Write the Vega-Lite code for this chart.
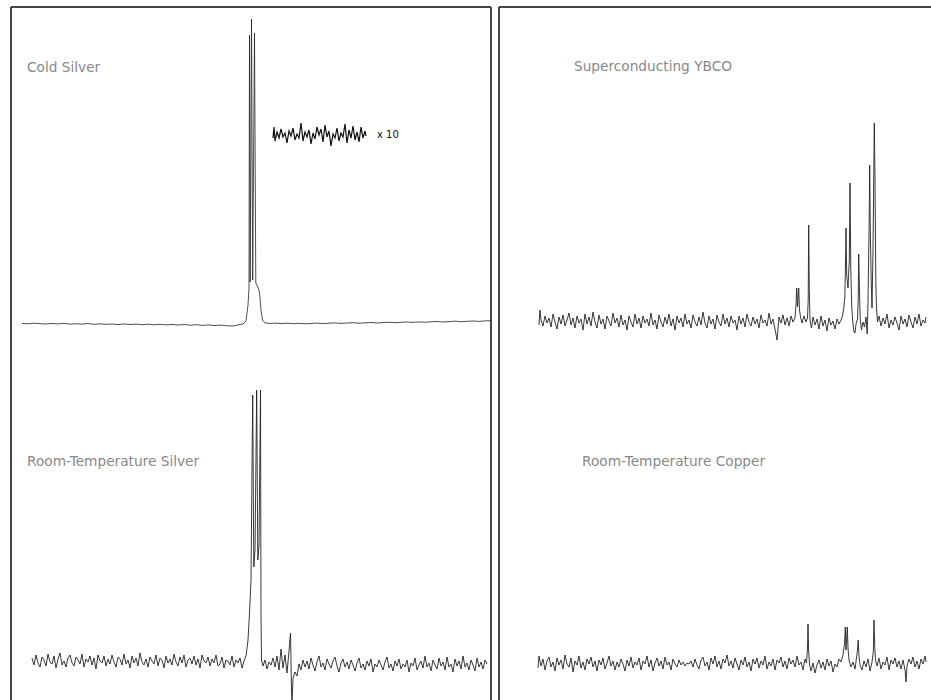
{
"$schema": "https://vega.github.io/schema/vega-lite/v6.json",
"padding": {"left": 10, "top": 6, "right": 0, "bottom": 0},
"spacing": 5,
"background": "white",
"config": {"view": {"stroke": null}},
"datasets": {
"cold": [{"x":11,"y":376.5},{"x":17,"y":376.2},{"x":23,"y":376.8},{"x":29,"y":376.4},{"x":35,"y":375.9},{"x":41,"y":376.6},{"x":47,"y":376.1},{"x":53,"y":376.7},{"x":59,"y":375.8},{"x":65,"y":376.3},{"x":71,"y":375.9},{"x":77,"y":376.5},{"x":83,"y":375.7},{"x":89,"y":376.2},{"x":95,"y":375.6},{"x":101,"y":376.0},{"x":107,"y":375.4},{"x":113,"y":376.1},{"x":119,"y":375.5},{"x":125,"y":375.9},{"x":131,"y":375.3},{"x":137,"y":375.8},{"x":143,"y":375.2},{"x":149,"y":375.7},{"x":155,"y":375.1},{"x":161,"y":375.6},{"x":167,"y":375.0},{"x":173,"y":375.5},{"x":179,"y":374.8},{"x":185,"y":375.3},{"x":191,"y":374.6},{"x":197,"y":375.1},{"x":203,"y":374.4},{"x":209,"y":374.9},{"x":215,"y":374.3},{"x":221,"y":374.0},{"x":225,"y":374.6},{"x":229,"y":375.5},{"x":232,"y":376},{"x":235,"y":379},{"x":237,"y":395},{"x":238,"y":412},{"x":238.5,"y":665},{"x":239.2,"y":418},{"x":240.5,"y":681},{"x":241.7,"y":420},{"x":243.5,"y":667},{"x":244.8,"y":417},{"x":246.5,"y":414},{"x":248.5,"y":408},{"x":250,"y":390},{"x":251.5,"y":380},{"x":254,"y":377},{"x":258,"y":376.6},{"x":264,"y":376.9},{"x":270,"y":376.4},{"x":276,"y":376.8},{"x":282,"y":376.3},{"x":288,"y":376.7},{"x":294,"y":376.2},{"x":300,"y":376.6},{"x":306,"y":376.9},{"x":312,"y":376.4},{"x":318,"y":376.8},{"x":324,"y":377.1},{"x":330,"y":376.6},{"x":336,"y":377.0},{"x":342,"y":377.3},{"x":348,"y":376.8},{"x":354,"y":377.2},{"x":360,"y":377.5},{"x":366,"y":377.0},{"x":372,"y":377.4},{"x":378,"y":377.8},{"x":384,"y":377.3},{"x":390,"y":377.7},{"x":396,"y":378.0},{"x":402,"y":377.6},{"x":408,"y":378.1},{"x":414,"y":377.7},{"x":420,"y":378.2},{"x":426,"y":378.5},{"x":432,"y":378.0},{"x":438,"y":378.4},{"x":444,"y":378.8},{"x":450,"y":378.3},{"x":456,"y":378.7},{"x":462,"y":379.0},{"x":468,"y":378.6},{"x":474,"y":379.1},{"x":480,"y":379.3}],
"x10": [{"x":262,"y":562},{"x":263,"y":573},{"x":264,"y":559},{"x":266,"y":568},{"x":268,"y":562},{"x":270,"y":571},{"x":272,"y":563},{"x":274,"y":567},{"x":276,"y":557},{"x":278,"y":569},{"x":280,"y":564},{"x":282,"y":572},{"x":284,"y":560},{"x":286,"y":566},{"x":288,"y":562},{"x":290,"y":577},{"x":292,"y":559},{"x":294,"y":568},{"x":296,"y":563},{"x":298,"y":570},{"x":300,"y":556},{"x":302,"y":567},{"x":304,"y":561},{"x":306,"y":573},{"x":308,"y":565},{"x":310,"y":571},{"x":312,"y":558},{"x":314,"y":575},{"x":316,"y":563},{"x":318,"y":569},{"x":320,"y":554},{"x":322,"y":566},{"x":324,"y":562},{"x":326,"y":572},{"x":328,"y":559},{"x":330,"y":567},{"x":332,"y":563},{"x":334,"y":576},{"x":336,"y":557},{"x":338,"y":570},{"x":340,"y":562},{"x":342,"y":574},{"x":344,"y":560},{"x":346,"y":568},{"x":348,"y":558},{"x":350,"y":573},{"x":352,"y":562},{"x":354,"y":569},{"x":355,"y":564}],
"rts": [{"x":21,"y":42},{"x":23,"y":35},{"x":25,"y":45},{"x":27,"y":37},{"x":29,"y":33},{"x":31,"y":43},{"x":33,"y":40},{"x":35,"y":34},{"x":37,"y":46},{"x":39,"y":38},{"x":41,"y":36},{"x":43,"y":44},{"x":45,"y":32},{"x":47,"y":41},{"x":49,"y":47},{"x":51,"y":35},{"x":53,"y":39},{"x":55,"y":33},{"x":57,"y":42},{"x":59,"y":45},{"x":61,"y":37},{"x":63,"y":34},{"x":65,"y":43},{"x":67,"y":40},{"x":69,"y":36},{"x":71,"y":46},{"x":73,"y":33},{"x":75,"y":41},{"x":77,"y":38},{"x":79,"y":44},{"x":81,"y":35},{"x":83,"y":42},{"x":85,"y":31},{"x":87,"y":45},{"x":89,"y":39},{"x":91,"y":37},{"x":93,"y":44},{"x":95,"y":34},{"x":97,"y":41},{"x":99,"y":36},{"x":101,"y":45},{"x":103,"y":38},{"x":105,"y":33},{"x":107,"y":43},{"x":109,"y":41},{"x":111,"y":35},{"x":113,"y":46},{"x":115,"y":36},{"x":117,"y":40},{"x":119,"y":32},{"x":121,"y":44},{"x":123,"y":37},{"x":125,"y":42},{"x":127,"y":34},{"x":129,"y":47},{"x":131,"y":38},{"x":133,"y":35},{"x":135,"y":41},{"x":137,"y":33},{"x":139,"y":43},{"x":141,"y":39},{"x":143,"y":36},{"x":145,"y":45},{"x":147,"y":34},{"x":149,"y":42},{"x":151,"y":40},{"x":153,"y":32},{"x":155,"y":44},{"x":157,"y":37},{"x":159,"y":41},{"x":161,"y":35},{"x":163,"y":46},{"x":165,"y":38},{"x":167,"y":34},{"x":169,"y":43},{"x":171,"y":37},{"x":173,"y":45},{"x":175,"y":33},{"x":177,"y":40},{"x":179,"y":42},{"x":181,"y":36},{"x":183,"y":44},{"x":185,"y":35},{"x":187,"y":41},{"x":189,"y":32},{"x":191,"y":45},{"x":193,"y":39},{"x":195,"y":37},{"x":197,"y":43},{"x":199,"y":34},{"x":201,"y":41},{"x":203,"y":37},{"x":205,"y":45},{"x":207,"y":34},{"x":209,"y":36},{"x":211,"y":43},{"x":213,"y":32},{"x":215,"y":40},{"x":217,"y":39},{"x":219,"y":35},{"x":221,"y":44},{"x":223,"y":33},{"x":225,"y":40},{"x":227,"y":37},{"x":229,"y":42},{"x":231,"y":32},{"x":233,"y":39},{"x":235,"y":44},{"x":237,"y":60},{"x":238.5,"y":87},{"x":240,"y":120},{"x":241.7,"y":305},{"x":242.8,"y":133},{"x":244,"y":150},{"x":245.7,"y":310},{"x":246.8,"y":140},{"x":248,"y":155},{"x":249.5,"y":310},{"x":250,"y":85},{"x":250.5,"y":40},{"x":252,"y":34},{"x":254,"y":40},{"x":256,"y":31},{"x":258,"y":38},{"x":260,"y":35},{"x":262,"y":42},{"x":264,"y":33},{"x":266,"y":44},{"x":268,"y":30},{"x":270,"y":51},{"x":272,"y":32},{"x":274,"y":45},{"x":276,"y":27},{"x":278,"y":49},{"x":279.5,"y":67},{"x":280.5,"y":10},{"x":281,"y":-4},{"x":282,"y":22},{"x":284,"y":28},{"x":286,"y":24},{"x":288,"y":36},{"x":290,"y":30},{"x":292,"y":40},{"x":294,"y":33},{"x":296,"y":39},{"x":298,"y":31},{"x":300,"y":42},{"x":302,"y":35},{"x":304,"y":29},{"x":306,"y":38},{"x":308,"y":44},{"x":310,"y":33},{"x":312,"y":37},{"x":314,"y":30},{"x":316,"y":41},{"x":318,"y":36},{"x":320,"y":32},{"x":322,"y":39},{"x":324,"y":43},{"x":326,"y":34},{"x":328,"y":28},{"x":330,"y":37},{"x":332,"y":41},{"x":334,"y":33},{"x":336,"y":38},{"x":338,"y":31},{"x":340,"y":40},{"x":342,"y":35},{"x":344,"y":29},{"x":346,"y":37},{"x":348,"y":42},{"x":350,"y":32},{"x":352,"y":36},{"x":354,"y":30},{"x":356,"y":39},{"x":358,"y":34},{"x":360,"y":41},{"x":362,"y":28},{"x":364,"y":36},{"x":366,"y":33},{"x":368,"y":40},{"x":370,"y":35},{"x":372,"y":30},{"x":374,"y":38},{"x":376,"y":43},{"x":378,"y":32},{"x":380,"y":36},{"x":382,"y":29},{"x":384,"y":39},{"x":386,"y":34},{"x":388,"y":41},{"x":390,"y":31},{"x":392,"y":36},{"x":394,"y":33},{"x":396,"y":40},{"x":398,"y":28},{"x":400,"y":37},{"x":402,"y":34},{"x":404,"y":42},{"x":406,"y":30},{"x":408,"y":35},{"x":410,"y":39},{"x":412,"y":32},{"x":414,"y":44},{"x":416,"y":33},{"x":418,"y":37},{"x":420,"y":29},{"x":422,"y":40},{"x":424,"y":35},{"x":426,"y":31},{"x":428,"y":42},{"x":430,"y":34},{"x":432,"y":38},{"x":434,"y":30},{"x":436,"y":43},{"x":438,"y":33},{"x":440,"y":36},{"x":442,"y":28},{"x":444,"y":41},{"x":446,"y":34},{"x":448,"y":39},{"x":450,"y":31},{"x":452,"y":44},{"x":454,"y":33},{"x":456,"y":37},{"x":458,"y":30},{"x":460,"y":40},{"x":462,"y":35},{"x":464,"y":29},{"x":466,"y":42},{"x":468,"y":33},{"x":470,"y":38},{"x":472,"y":31},{"x":474,"y":40},{"x":476,"y":36}],
"ybco": [{"x":40,"y":375},{"x":41,"y":390},{"x":42,"y":380},{"x":44,"y":374},{"x":46,"y":384},{"x":48,"y":377},{"x":50,"y":382},{"x":52,"y":373},{"x":54,"y":386},{"x":56,"y":378},{"x":58,"y":371},{"x":60,"y":383},{"x":62,"y":376},{"x":64,"y":385},{"x":66,"y":374},{"x":68,"y":380},{"x":70,"y":387},{"x":72,"y":375},{"x":74,"y":382},{"x":76,"y":372},{"x":78,"y":384},{"x":80,"y":377},{"x":82,"y":381},{"x":84,"y":370},{"x":86,"y":386},{"x":88,"y":376},{"x":90,"y":383},{"x":92,"y":374},{"x":94,"y":388},{"x":96,"y":378},{"x":98,"y":372},{"x":100,"y":385},{"x":102,"y":376},{"x":104,"y":381},{"x":106,"y":371},{"x":108,"y":384},{"x":110,"y":379},{"x":112,"y":374},{"x":114,"y":387},{"x":116,"y":377},{"x":118,"y":382},{"x":120,"y":373},{"x":122,"y":385},{"x":124,"y":375},{"x":126,"y":380},{"x":128,"y":370},{"x":130,"y":384},{"x":132,"y":378},{"x":134,"y":373},{"x":136,"y":386},{"x":138,"y":376},{"x":140,"y":382},{"x":142,"y":372},{"x":144,"y":384},{"x":146,"y":377},{"x":148,"y":381},{"x":150,"y":374},{"x":152,"y":387},{"x":154,"y":375},{"x":156,"y":380},{"x":158,"y":371},{"x":160,"y":385},{"x":162,"y":378},{"x":164,"y":373},{"x":166,"y":383},{"x":168,"y":376},{"x":170,"y":386},{"x":172,"y":374},{"x":174,"y":381},{"x":176,"y":370},{"x":178,"y":384},{"x":180,"y":377},{"x":182,"y":382},{"x":184,"y":373},{"x":186,"y":386},{"x":188,"y":376},{"x":190,"y":380},{"x":192,"y":372},{"x":194,"y":385},{"x":196,"y":378},{"x":198,"y":374},{"x":200,"y":383},{"x":202,"y":375},{"x":204,"y":388},{"x":206,"y":377},{"x":208,"y":372},{"x":210,"y":384},{"x":212,"y":376},{"x":214,"y":381},{"x":216,"y":371},{"x":218,"y":385},{"x":220,"y":378},{"x":222,"y":374},{"x":224,"y":386},{"x":226,"y":376},{"x":228,"y":382},{"x":230,"y":373},{"x":232,"y":384},{"x":234,"y":377},{"x":236,"y":380},{"x":238,"y":370},{"x":240,"y":384},{"x":242,"y":376},{"x":244,"y":382},{"x":246,"y":373},{"x":248,"y":386},{"x":250,"y":378},{"x":252,"y":374},{"x":254,"y":383},{"x":256,"y":376},{"x":258,"y":381},{"x":260,"y":372},{"x":262,"y":385},{"x":264,"y":377},{"x":266,"y":380},{"x":268,"y":374},{"x":270,"y":387},{"x":272,"y":376},{"x":274,"y":381},{"x":276,"y":371},{"x":278,"y":360},{"x":280,"y":383},{"x":282,"y":377},{"x":284,"y":385},{"x":286,"y":375},{"x":288,"y":382},{"x":290,"y":374},{"x":292,"y":384},{"x":294,"y":378},{"x":296,"y":382},{"x":297,"y":395},{"x":297.7,"y":412},{"x":298.5,"y":393},{"x":299.7,"y":412},{"x":300.5,"y":390},{"x":301.5,"y":383},{"x":303,"y":377},{"x":305,"y":384},{"x":307,"y":378},{"x":308.5,"y":382},{"x":309.2,"y":400},{"x":309.7,"y":475},{"x":310.3,"y":410},{"x":311,"y":380},{"x":312.5,"y":372},{"x":314,"y":383},{"x":316,"y":375},{"x":318,"y":381},{"x":320,"y":371},{"x":322,"y":384},{"x":324,"y":374},{"x":326,"y":380},{"x":328,"y":369},{"x":330,"y":382},{"x":332,"y":375},{"x":334,"y":379},{"x":336,"y":371},{"x":338,"y":381},{"x":340,"y":376},{"x":342,"y":380},{"x":343.5,"y":384},{"x":344.8,"y":392},{"x":345.8,"y":402},{"x":346.4,"y":430},{"x":347,"y":472},{"x":347.7,"y":425},{"x":349,"y":412},{"x":350.3,"y":440},{"x":351,"y":517},{"x":351.8,"y":430},{"x":352.8,"y":392},{"x":354,"y":376},{"x":355,"y":368},{"x":356,"y":367},{"x":357,"y":376},{"x":358.5,"y":381},{"x":359.2,"y":400},{"x":359.7,"y":446},{"x":360.3,"y":418},{"x":361.2,"y":381},{"x":362.5,"y":370},{"x":364,"y":378},{"x":365.5,"y":373},{"x":367,"y":383},{"x":368.2,"y":366},{"x":369,"y":398},{"x":370.2,"y":480},{"x":370.7,"y":535},{"x":371.3,"y":470},{"x":372.2,"y":420},{"x":373,"y":392},{"x":374,"y":450},{"x":375.3,"y":577},{"x":376,"y":520},{"x":376.8,"y":420},{"x":377.5,"y":392},{"x":378.5,"y":378},{"x":380,"y":384},{"x":382,"y":374},{"x":384,"y":382},{"x":386,"y":376},{"x":388,"y":386},{"x":390,"y":372},{"x":392,"y":380},{"x":394,"y":375},{"x":396,"y":383},{"x":398,"y":377},{"x":400,"y":370},{"x":402,"y":384},{"x":404,"y":376},{"x":406,"y":381},{"x":408,"y":373},{"x":410,"y":385},{"x":412,"y":378},{"x":414,"y":372},{"x":416,"y":383},{"x":418,"y":376},{"x":420,"y":386},{"x":422,"y":374},{"x":424,"y":380},{"x":426,"y":377},{"x":427,"y":383}],
"rtc": [{"x":39,"y":32},{"x":40,"y":44},{"x":42,"y":34},{"x":44,"y":41},{"x":46,"y":30},{"x":48,"y":39},{"x":50,"y":43},{"x":52,"y":33},{"x":54,"y":38},{"x":56,"y":29},{"x":58,"y":42},{"x":60,"y":35},{"x":62,"y":40},{"x":64,"y":31},{"x":66,"y":45},{"x":68,"y":36},{"x":70,"y":33},{"x":72,"y":42},{"x":74,"y":28},{"x":76,"y":39},{"x":78,"y":35},{"x":80,"y":44},{"x":82,"y":32},{"x":84,"y":38},{"x":86,"y":30},{"x":88,"y":41},{"x":90,"y":36},{"x":92,"y":43},{"x":94,"y":33},{"x":96,"y":39},{"x":98,"y":29},{"x":100,"y":40},{"x":102,"y":35},{"x":104,"y":42},{"x":106,"y":31},{"x":108,"y":37},{"x":110,"y":44},{"x":112,"y":34},{"x":114,"y":39},{"x":116,"y":30},{"x":118,"y":38},{"x":120,"y":33},{"x":122,"y":41},{"x":124,"y":36},{"x":126,"y":29},{"x":128,"y":40},{"x":130,"y":34},{"x":132,"y":43},{"x":134,"y":32},{"x":136,"y":38},{"x":138,"y":35},{"x":140,"y":42},{"x":142,"y":30},{"x":144,"y":39},{"x":146,"y":36},{"x":148,"y":44},{"x":150,"y":33},{"x":152,"y":40},{"x":154,"y":29},{"x":156,"y":37},{"x":158,"y":42},{"x":160,"y":34},{"x":162,"y":39},{"x":164,"y":31},{"x":166,"y":43},{"x":168,"y":35},{"x":170,"y":38},{"x":172,"y":30},{"x":174,"y":41},{"x":176,"y":36},{"x":178,"y":33},{"x":180,"y":40},{"x":182,"y":35},{"x":184,"y":38},{"x":186,"y":34},{"x":188,"y":37},{"x":190,"y":36},{"x":192,"y":39},{"x":194,"y":33},{"x":196,"y":41},{"x":198,"y":35},{"x":200,"y":31},{"x":202,"y":40},{"x":204,"y":43},{"x":206,"y":34},{"x":208,"y":38},{"x":210,"y":30},{"x":212,"y":42},{"x":214,"y":36},{"x":216,"y":44},{"x":218,"y":33},{"x":220,"y":39},{"x":222,"y":31},{"x":224,"y":41},{"x":226,"y":37},{"x":228,"y":45},{"x":230,"y":34},{"x":232,"y":39},{"x":234,"y":32},{"x":236,"y":42},{"x":238,"y":36},{"x":240,"y":30},{"x":242,"y":40},{"x":244,"y":35},{"x":246,"y":43},{"x":248,"y":33},{"x":250,"y":38},{"x":252,"y":29},{"x":254,"y":41},{"x":256,"y":36},{"x":258,"y":42},{"x":260,"y":32},{"x":262,"y":39},{"x":264,"y":35},{"x":266,"y":44},{"x":268,"y":31},{"x":270,"y":38},{"x":272,"y":34},{"x":274,"y":41},{"x":276,"y":30},{"x":278,"y":40},{"x":280,"y":37},{"x":282,"y":43},{"x":284,"y":33},{"x":286,"y":39},{"x":288,"y":31},{"x":290,"y":42},{"x":292,"y":36},{"x":294,"y":40},{"x":296,"y":33},{"x":298,"y":44},{"x":300,"y":35},{"x":302,"y":38},{"x":304,"y":30},{"x":306,"y":41},{"x":307.5,"y":37},{"x":308.5,"y":52},{"x":309,"y":76},{"x":309.6,"y":50},{"x":310.5,"y":36},{"x":312,"y":29},{"x":314,"y":37},{"x":316,"y":27},{"x":318,"y":35},{"x":320,"y":40},{"x":322,"y":32},{"x":324,"y":38},{"x":326,"y":30},{"x":328,"y":41},{"x":330,"y":34},{"x":332,"y":39},{"x":334,"y":28},{"x":336,"y":36},{"x":338,"y":33},{"x":340,"y":41},{"x":342,"y":38},{"x":344,"y":45},{"x":345.5,"y":56},{"x":346.3,"y":73},{"x":347,"y":50},{"x":348.3,"y":73},{"x":349,"y":52},{"x":350,"y":40},{"x":352,"y":33},{"x":354,"y":38},{"x":356,"y":31},{"x":357.5,"y":42},{"x":358.5,"y":50},{"x":359.2,"y":60},{"x":360,"y":44},{"x":361,"y":35},{"x":363,"y":30},{"x":365,"y":39},{"x":367,"y":33},{"x":369,"y":41},{"x":371,"y":29},{"x":373,"y":38},{"x":374.3,"y":48},{"x":375,"y":80},{"x":375.7,"y":55},{"x":376.5,"y":40},{"x":378,"y":34},{"x":380,"y":42},{"x":382,"y":31},{"x":384,"y":38},{"x":386,"y":35},{"x":388,"y":43},{"x":390,"y":30},{"x":392,"y":40},{"x":394,"y":36},{"x":396,"y":42},{"x":398,"y":33},{"x":400,"y":39},{"x":402,"y":31},{"x":404,"y":40},{"x":406,"y":30},{"x":407,"y":18},{"x":408,"y":34},{"x":410,"y":41},{"x":412,"y":36},{"x":414,"y":43},{"x":416,"y":33},{"x":418,"y":39},{"x":420,"y":31},{"x":422,"y":41},{"x":424,"y":36},{"x":426,"y":44},{"x":427,"y":38}]
},
"hconcat": [
{
"width": 480, "height": 693,
"layer": [
{"data": {"values": [{}]}, "mark": {"type": "rule", "stroke": "#444", "strokeWidth": 2}, "encoding": {"x": {"datum": 0, "type": "quantitative", "scale": {"domain": [0, 480], "nice": false, "zero": false}, "axis": null}}},
{"data": {"values": [{}]}, "mark": {"type": "rule", "stroke": "#444", "strokeWidth": 2}, "encoding": {"x": {"datum": 480, "type": "quantitative", "axis": null}}},
{"data": {"values": [{}]}, "mark": {"type": "rule", "stroke": "#444", "strokeWidth": 2}, "encoding": {"y": {"datum": 693, "type": "quantitative", "scale": {"domain": [0, 693], "nice": false, "zero": false}, "axis": null}}},
{"data": {"values": [{}]}, "mark": {"type": "text", "text": "Cold Silver", "align": "left", "baseline": "middle", "font": "DejaVu Sans", "fontSize": 13.7, "fill": "#888"}, "encoding": {"x": {"datum": 16, "type": "quantitative", "axis": null}, "y": {"datum": 632, "type": "quantitative", "axis": null}}},
{"data": {"values": [{}]}, "mark": {"type": "text", "text": "Room-Temperature Silver", "align": "left", "baseline": "middle", "font": "DejaVu Sans", "fontSize": 13.7, "fill": "#888"}, "encoding": {"x": {"datum": 16, "type": "quantitative", "axis": null}, "y": {"datum": 238, "type": "quantitative", "axis": null}}},
{"data": {"values": [{}]}, "mark": {"type": "text", "text": "x 10", "align": "left", "baseline": "middle", "font": "DejaVu Sans", "fontSize": 10, "fill": "#111"}, "encoding": {"x": {"datum": 366, "type": "quantitative", "axis": null}, "y": {"datum": 565, "type": "quantitative", "axis": null}}},
{"data": {"name": "cold"}, "mark": {"type": "line", "stroke": "#222", "strokeWidth": 0.8}, "encoding": {"x": {"field": "x", "type": "quantitative", "axis": null}, "y": {"field": "y", "type": "quantitative", "axis": null}}},
{"data": {"name": "x10"}, "mark": {"type": "line", "stroke": "#111", "strokeWidth": 1.2}, "encoding": {"x": {"field": "x", "type": "quantitative", "axis": null}, "y": {"field": "y", "type": "quantitative", "axis": null}}},
{"data": {"name": "rts"}, "mark": {"type": "line", "stroke": "#222", "strokeWidth": 0.9}, "encoding": {"x": {"field": "x", "type": "quantitative", "axis": null}, "y": {"field": "y", "type": "quantitative", "axis": null}}}
]
},
{
"width": 433, "height": 693,
"layer": [
{"data": {"values": [{}]}, "mark": {"type": "rule", "stroke": "#444", "strokeWidth": 2}, "encoding": {"x": {"datum": 0, "type": "quantitative", "scale": {"domain": [0, 433], "nice": false, "zero": false}, "axis": null}}},
{"data": {"values": [{}]}, "mark": {"type": "rule", "stroke": "#444", "strokeWidth": 2}, "encoding": {"y": {"datum": 693, "type": "quantitative", "scale": {"domain": [0, 693], "nice": false, "zero": false}, "axis": null}}},
{"data": {"values": [{}]}, "mark": {"type": "text", "text": "Superconducting YBCO", "align": "left", "baseline": "middle", "font": "DejaVu Sans", "fontSize": 13.7, "fill": "#888"}, "encoding": {"x": {"datum": 75, "type": "quantitative", "axis": null}, "y": {"datum": 633, "type": "quantitative", "axis": null}}},
{"data": {"values": [{}]}, "mark": {"type": "text", "text": "Room-Temperature Copper", "align": "left", "baseline": "middle", "font": "DejaVu Sans", "fontSize": 13.7, "fill": "#888"}, "encoding": {"x": {"datum": 83, "type": "quantitative", "axis": null}, "y": {"datum": 238, "type": "quantitative", "axis": null}}},
{"data": {"name": "ybco"}, "mark": {"type": "line", "stroke": "#222", "strokeWidth": 0.9}, "encoding": {"x": {"field": "x", "type": "quantitative", "axis": null}, "y": {"field": "y", "type": "quantitative", "axis": null}}},
{"data": {"name": "rtc"}, "mark": {"type": "line", "stroke": "#222", "strokeWidth": 0.9}, "encoding": {"x": {"field": "x", "type": "quantitative", "axis": null}, "y": {"field": "y", "type": "quantitative", "axis": null}}}
]
}
]
}
